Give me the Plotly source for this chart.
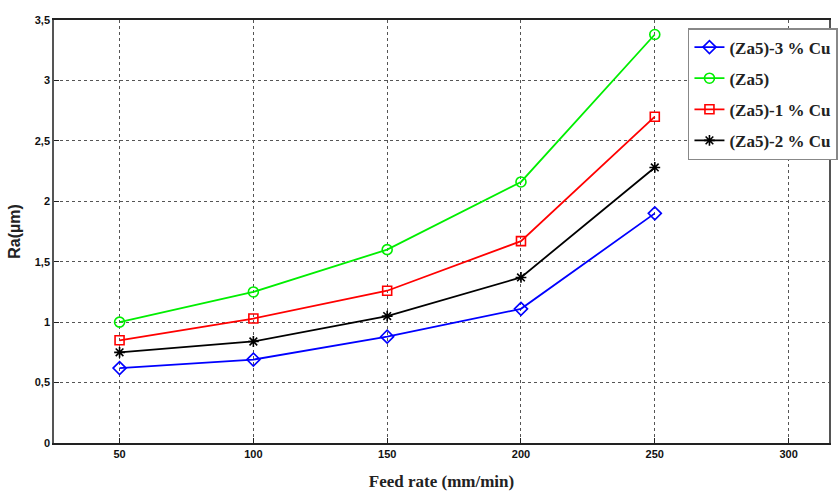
import plotly.graph_objects as go

# Feed rate (mm/min) and surface roughness Ra (µm) for each alloy
feed_rate = [50, 100, 150, 200, 250]
ra_za5_3cu = [0.62, 0.69, 0.88, 1.11, 1.90]
ra_za5 = [1.00, 1.25, 1.60, 2.16, 3.38]
ra_za5_1cu = [0.85, 1.03, 1.26, 1.67, 2.70]
ra_za5_2cu = [0.75, 0.84, 1.05, 1.37, 2.28]

x_ticks = [50, 100, 150, 200, 250, 300]
y_ticks = [0, 0.5, 1, 1.5, 2, 2.5, 3, 3.5]
y_tick_text = ["0", "0,5", "1", "1,5", "2", "2,5", "3", "3,5"]

series = [
    ("(Za5)-3 % Cu", ra_za5_3cu, "#0000ff", "diamond-open", 10),
    ("(Za5)", ra_za5, "#00ee00", "circle-open", 10),
    ("(Za5)-1 % Cu", ra_za5_1cu, "#ff0000", "square-open", 9),
    ("(Za5)-2 % Cu", ra_za5_2cu, "#000000", "asterisk-open", 9),
]

fig = go.Figure()
for i, (name, values, color, symbol, size) in enumerate(series):
    fig.add_trace(go.Scatter(
        x=feed_rate, y=values, name=f"<b>{name}</b>", mode="lines+markers",
        legendgroup=f"g{i}",
        line=dict(color=color, width=1.8),
        marker=dict(symbol=symbol, size=size, color=color,
                    line=dict(color=color, width=1.6)),
    ))

tick_font = dict(family="Liberation Sans Narrow, Arial Narrow, Liberation Sans", size=11, color="#111")
serif = "Liberation Serif"

fig.update_layout(
    width=838, height=492,
    margin=dict(l=54, r=0, t=20, b=49),
    paper_bgcolor="white", plot_bgcolor="white",
    showlegend=True,
    legend=dict(
        x=0.818, y=0.981, xanchor="left", yanchor="top",
        bgcolor="white", bordercolor="#888", borderwidth=1.5,
        font=dict(family=serif, size=17, color="#222"),
        itemwidth=30, tracegroupgap=6,
    ),
    xaxis=dict(
        range=[25.5, 315.1], tickvals=x_ticks,
        ticktext=[f"<b>{v}</b>" for v in x_ticks],
        tickfont=tick_font,
        showgrid=True, gridcolor="#555", griddash="dot", gridwidth=1,
        showline=True, linecolor="#222", linewidth=2, mirror=True,
        ticks="inside", ticklen=5, tickcolor="#222",
        zeroline=False,
        title=dict(text="<b>Feed rate (mm/min)</b>", standoff=16,
                   font=dict(family=serif, size=17, color="#222")),
    ),
    yaxis=dict(
        range=[0, 3.5], tickvals=y_ticks,
        ticktext=[f"<b>{t}</b>" for t in y_tick_text],
        tickfont=tick_font,
        showgrid=True, gridcolor="#555", griddash="dot", gridwidth=1,
        showline=True, linecolor="#555", linewidth=1.5, mirror=True,
        ticks="inside", ticklen=5, tickcolor="#222",
        zeroline=False,
        title=dict(text="<b>Ra(µm)</b>", standoff=10,
                   font=dict(family="Liberation Sans, Arial", size=16, color="#222")),
    ),
)

fig.write_html("out.html")
